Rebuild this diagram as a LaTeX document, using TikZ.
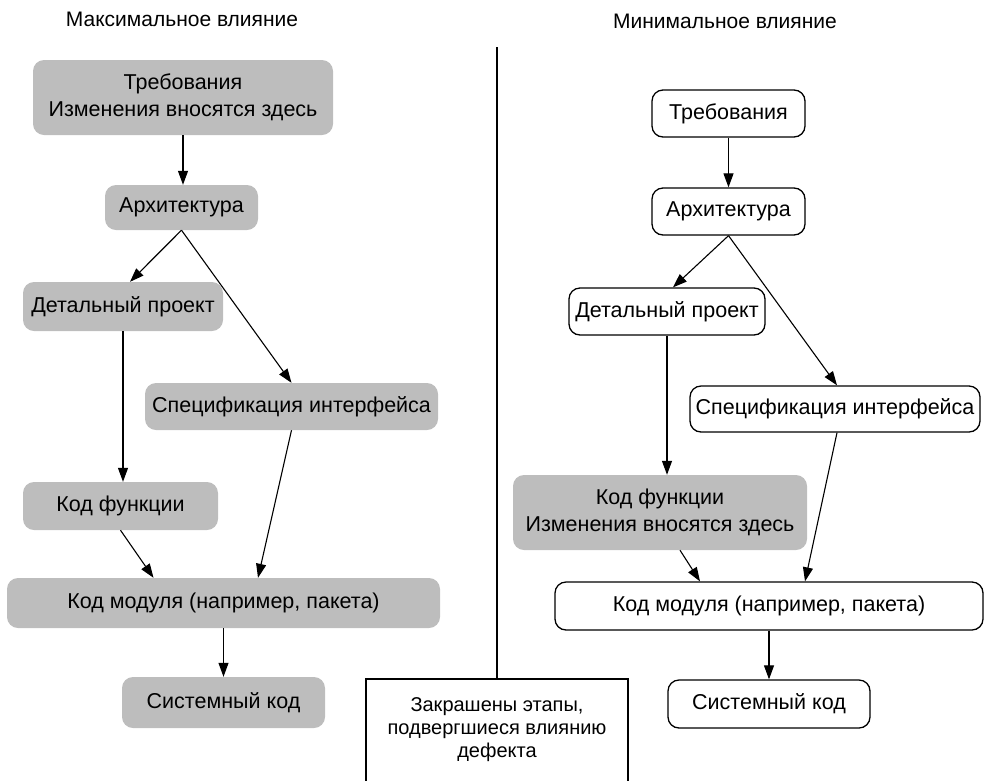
\documentclass[tikz,border=0pt]{standalone}
\usepackage{fontspec}
\setmainfont{Liberation Sans}
\usetikzlibrary{arrows.meta}
\begin{document}
\begin{tikzpicture}[x=1pt,y=-1pt,
  every node/.style={font=\fontsize{21.5}{27}\selectfont, inner sep=0pt, align=center},
  stage/.style={rounded corners=11pt, minimum width=#1},
  hit/.style={stage=#1, fill=black!26},
  clean/.style={stage=#1, draw=black, line width=1.3pt, fill=white},
  flow/.style={line width=1.1pt, -{Triangle[length=14pt,width=10pt]}},
  title/.style={font=\fontsize{21}{25}\selectfont}]
\useasboundingbox (0,0) rectangle (984,780);

% column headings
\node[title] (tmax) at (182,19) {Максимальное влияние};
\node[title] (tmin) at (725,21) {Минимальное влияние};

% divider and legend
\coordinate (divtop) at (497,47);
\coordinate (legtop) at (497,679);
\draw[line width=1.6pt] (divtop) -- (legtop);
\draw[line width=1.3pt] (366,800) |- (628,679) -- (628,800);
\node[font=\fontsize{20}{23}\selectfont] (legend) at (497,730)
  {Закрашены этапы,\\подвергшиеся влиянию\\дефекта};

% left chain: defect found in requirements
\node[hit=300pt, minimum height=75pt] (L1) at (183,97.5) {Требования\\Изменения вносятся здесь};
\node[hit=153pt, minimum height=45pt] (L2) at (181.5,207.5) {Архитектура};
\node[hit=200pt, minimum height=49pt] (L3) at (123,306.5) {Детальный проект};
\node[hit=293pt, minimum height=47pt] (L4) at (291.5,406.5) {Спецификация интерфейса};
\node[hit=195pt, minimum height=48pt] (L5) at (120.5,506) {Код функции};
\node[hit=433pt, minimum height=50pt] (L6) at (223.5,603) {Код модуля (например, пакета)};
\node[hit=203pt, minimum height=51pt] (L7) at (223.5,702.5) {Системный код};

\draw[flow] (L1.south) -- (L1.south |- L2.north);
\draw[flow] (L2.south) -- ([xshift=7pt]L3.north);
\draw[flow] (L2.south) -- (L4.north);
\draw[flow] (L3.south) -- (L3.south |- L5.north);
\draw[flow] (L5.south) -- ([xshift=-70pt]L6.north);
\draw[flow] (L4.south) -- ([xshift=34.5pt]L6.north);
\draw[flow] (L6.south) -- (L7.north);

% right chain: defect found in function code
\node[clean=153pt, minimum height=47pt] (R1) at (728.5,113.5) {Требования};
\node[clean=153pt, minimum height=47pt] (R2) at (728.5,211.5) {Архитектура};
\node[clean=196pt, minimum height=47pt] (R3) at (667,311.5) {Детальный проект};
\node[clean=290pt, minimum height=46pt] (R4) at (835,409) {Спецификация интерфейса};
\node[hit=294pt, minimum height=75pt] (R5) at (660,512.5) {Код функции\\Изменения вносятся здесь};
\node[clean=428pt, minimum height=48pt] (R6) at (769,606) {Код модуля (например, пакета)};
\node[clean=202pt, minimum height=48pt] (R7) at (769,704) {Системный код};

\draw[flow] (R1.south) -- (R2.north);
\draw[flow] (R2.south) -- ([xshift=6pt]R3.north);
\draw[flow] (R2.south) -- ([xshift=2pt]R4.north);
\draw[flow] (R3.south) -- (R3.south |- R5.north);
\draw[flow] ([xshift=20pt]R5.south) -- ([xshift=-69pt]R6.north);
\draw[flow] ([xshift=2pt]R4.south) -- ([xshift=36pt]R6.north);
\draw[flow] (R6.south) -- (R7.north);
\end{tikzpicture}
\end{document}
